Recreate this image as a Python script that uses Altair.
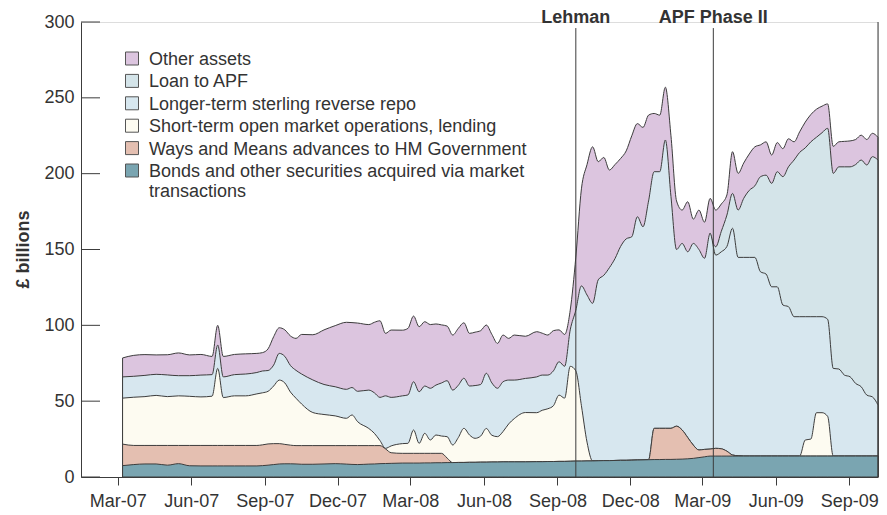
import altair as alt
import pandas as pd

FONT = "Liberation Sans"
TEXT = "#333333"
LINE = "#3c3c3c"

dates = [
    "2007-03-07", "2007-03-21", "2007-04-04", "2007-04-18", "2007-05-02", "2007-05-16", "2007-05-30",
    "2007-06-13", "2007-06-27", "2007-07-04", "2007-07-11", "2007-07-25", "2007-08-08", "2007-08-22",
    "2007-08-29", "2007-09-05", "2007-09-12", "2007-09-19", "2007-09-26", "2007-10-03", "2007-10-10",
    "2007-10-17", "2007-10-31", "2007-11-14", "2007-11-28", "2007-12-12", "2007-12-19", "2007-12-26",
    "2008-01-09", "2008-01-16", "2008-01-23", "2008-01-30", "2008-02-06", "2008-02-20", "2008-02-27",
    "2008-03-05", "2008-03-12", "2008-03-19", "2008-03-26", "2008-04-02", "2008-04-09", "2008-04-16",
    "2008-04-23", "2008-04-30", "2008-05-07", "2008-05-14", "2008-05-21", "2008-05-28", "2008-06-04",
    "2008-06-11", "2008-06-18", "2008-06-25", "2008-07-02", "2008-07-09", "2008-07-23", "2008-08-06",
    "2008-08-13", "2008-08-20", "2008-08-27", "2008-09-03", "2008-09-10", "2008-09-17",
    "2008-09-24", "2008-10-01", "2008-10-08", "2008-10-15", "2008-10-22", "2008-10-29", "2008-11-05",
    "2008-11-12", "2008-11-19", "2008-11-26", "2008-12-03", "2008-12-10", "2008-12-17", "2008-12-24",
    "2008-12-31", "2009-01-07", "2009-01-14", "2009-01-21", "2009-01-28", "2009-02-04", "2009-02-11",
    "2009-02-18", "2009-02-25", "2009-03-04", "2009-03-11", "2009-03-18", "2009-03-25", "2009-04-01",
    "2009-04-08", "2009-04-15", "2009-04-22", "2009-04-29", "2009-05-06", "2009-05-13", "2009-05-20",
    "2009-05-27", "2009-06-03", "2009-06-10", "2009-06-17", "2009-06-24", "2009-07-01", "2009-07-08",
    "2009-07-15", "2009-07-22", "2009-07-29", "2009-08-05", "2009-08-12", "2009-08-19", "2009-08-26",
    "2009-09-02", "2009-09-09", "2009-09-16", "2009-09-23", "2009-09-30", "2009-10-07",
]

# Cumulative levels (top edge of each stacked band), £ billions
level_other = [
    78.5, 80.2, 80.7, 80.5, 80.6, 81.8, 80.5, 80.8, 79.5, 100, 79.5, 80.8, 81.2, 81.5,
    82, 84.5, 92.5, 98.4, 97, 93, 91.4, 94, 93.8, 97, 99.8, 102, 101.8, 101.5,
    100.5, 102, 103, 94.7, 96.9, 96.8, 98, 106.1, 99.1, 102.4, 100.5, 100.9, 100.3, 99.5,
    93.6, 98, 101.7, 94.7, 95.5, 96.5, 100.2, 94, 88.1, 93.6, 91.4, 93.6, 92.8, 95.8,
    94.8, 93.6, 96.5, 97, 94, 110,
    145, 190, 206, 217.7, 207.9, 210.7, 202.4, 206, 210, 215, 225, 233, 230.5, 238.6,
    239.7, 238.6, 257, 225, 182, 176, 181.5, 170, 176, 168, 183.7, 176, 180, 186,
    214.5, 200.2, 207, 213, 217.7, 219, 221, 212.3, 220.5, 216.5, 223, 221, 227.6, 234,
    239, 242.5, 244.5, 246, 218, 221, 221.3, 221.6, 222.5, 225.4, 222.5, 226.6, 224,
]
level_apf = [  # from 2009-03-11, when the loan to the APF appears
    160.6, 151.8, 162, 172.7, 187, 176, 183.7, 189, 192, 198, 199, 193.6, 201.3, 198,
    204.5, 209, 214, 217, 221, 224, 227, 229.9, 200.2, 204.5, 204.5, 204.5, 206, 209,
    205.7, 211.2, 209,
]
level_ltr = [
    66, 66.4, 67, 67.7, 67.3, 66.8, 66.8, 67.2, 67.5, 87, 66, 67.5, 67.9, 68.9,
    69.9, 70.2, 73.8, 81.5, 79.5, 73.5, 70.3, 67.9, 64, 61, 59.5, 57.8, 59, 56.5,
    57.3, 55.5, 52.5, 53.5, 52.5, 53.5, 54.1, 62.8, 56.2, 60, 58.5, 60.6, 62, 63.5,
    57.3, 60.5, 65.1, 60, 60.3, 61, 68.4, 62, 58.5, 62.8, 63.9, 63.9, 65, 66,
    67.2, 67.2, 70, 76, 73, 97,
    110, 126, 120, 114.5, 130, 133, 138, 144, 152, 157, 158.4, 171.6, 165, 182,
    201.3, 201.3, 222.2, 185, 150, 154, 148.5, 154, 150, 144.2, 160.6, 146.3, 148.5, 152,
    164, 144.8, 144.8, 144.8, 144.8, 135.3, 133.8, 125.4, 125.4, 113.4, 112.3, 105.7, 105.7, 105.7,
    105.7, 105.7, 105.7, 104, 71.6, 71.2, 67.2, 66.1, 61.7, 59.5, 54, 52.8, 47.5,
]
level_omo = [
    52, 52.6, 53, 53.8, 53, 53.5, 53.2, 52.8, 53.3, 71.6, 52.4, 53.5, 53.5, 54.8,
    55.5, 56.5, 60, 63.9, 62, 56, 51.9, 48.1, 42.5, 41.2, 40.3, 38.7, 40.9, 36.5,
    32, 28.8, 24, 18.9, 20.5, 22, 22.2, 31, 22.2, 28.8, 24.4, 27.7, 27, 26.6,
    21.1, 26, 32.1, 27.7, 25.5, 27, 32, 27.5, 26.6, 30, 35, 38.5, 42.5, 42.4,
    44, 45, 47, 54, 52, 73,
    70, 47, 23, 10.6, 10.7, 10.8, 10.8, 10.9, 11, 11, 11.1, 11.2, 11.3, 11.4,
    32.1, 32.1, 32.1, 32.1, 33.5, 31, 26, 21, 17.8, 18.2, 18.4, 18.9, 18.6, 17,
    14.5, 14, 13.8, 13.8, 13.8, 13.8, 13.8, 13.8, 13.8, 13.8, 13.8, 13.8, 13.8, 24.4,
    25, 42.4, 42.4, 40, 13.8, 13.8, 13.8, 13.8, 13.8, 13.8, 13.8, 13.8, 13.8,
]
level_wm = [
    21.7, 20.8, 20.8, 20.8, 20.8, 20.8, 20.8, 20.8, 20.8, 20.8, 20.8, 20.8, 20.8, 20.8,
    21.2, 21.8, 22, 22, 21.5, 21, 20.7, 20.7, 20.7, 20.7, 20.7, 20.7, 20.7, 20.7,
    20.7, 20.7, 20.7, 18.5, 16, 15.6, 15.6, 15.6, 15.6, 15.6, 15.6, 15.6, 15.6, 12.5,
    9.5, 9.6, 9.6, 9.7, 9.7, 9.8, 9.8, 9.9, 9.9, 10, 10, 10, 10, 10.1,
    10.1, 10.2, 10.2, 10.3, 10.3, 10.4,
    10.5, 10.5, 10.6, 10.6, 10.7, 10.8, 10.8, 10.9, 11, 11, 11.1, 11.2, 11.3, 11.4,
    32.1, 32.1, 32.1, 32.1, 33.5, 31, 26, 21, 17.8, 18.2, 18.4, 18.9, 18.6, 17,
    14.5, 14, 13.8, 13.8, 13.8, 13.8, 13.8, 13.8, 13.8, 13.8, 13.8, 13.8, 13.8, 13.8,
    13.8, 13.8, 13.8, 13.8, 13.8, 13.8, 13.8, 13.8, 13.8, 13.8, 13.8, 13.8, 13.8,
]
level_bonds = [
    7.5, 8.2, 8.6, 8.6, 7.8, 8.8, 7.4, 7.3, 7.3, 7.3, 7.3, 7.3, 7.3, 7.3,
    7.5, 7.8, 8.2, 8.6, 8.7, 8.7, 8.6, 8.4, 8.4, 8.6, 8.8, 8.5, 8.3, 8.2,
    8.5, 8.6, 8.8, 8.9, 9, 9.2, 9.2, 9.2, 9.2, 9.3, 9.3, 9.4, 9.4, 9.5,
    9.5, 9.6, 9.6, 9.7, 9.7, 9.8, 9.8, 9.9, 9.9, 10, 10, 10, 10, 10.1,
    10.1, 10.2, 10.2, 10.3, 10.3, 10.4,
    10.5, 10.5, 10.6, 10.6, 10.7, 10.8, 10.8, 10.9, 11, 11, 11.1, 11.2, 11.3, 11.4,
    11.5, 11.5, 11.6, 11.6, 11.7, 11.8, 12, 12.3, 12.8, 13.3, 13.8, 13.8, 13.8, 13.8,
    13.8, 13.8, 13.8, 13.8, 13.8, 13.8, 13.8, 13.8, 13.8, 13.8, 13.8, 13.8, 13.8, 13.8,
    13.8, 13.8, 13.8, 13.8, 13.8, 13.8, 13.8, 13.8, 13.8, 13.8, 13.8, 13.8, 13.8,
]

series = [
    "Other assets",
    "Loan to APF",
    "Longer-term sterling reverse repo",
    "Short-term open market operations, lending",
    "Ways and Means advances to HM Government",
    "Bonds and other securities acquired via market transactions",
]
colors = ["#dcc5df", "#d4e4e9", "#d7e7ef", "#fdfbf1", "#e4bfb1", "#7aa5b1"]

y_ticks = [0, 50, 100, 150, 200, 250, 300]
x_ticks = ["2007-03-01", "2007-06-01", "2007-09-01", "2007-12-01", "2008-03-01", "2008-06-01",
           "2008-09-01", "2008-12-01", "2009-03-01", "2009-06-01", "2009-09-01"]
x_range = ["2007-01-14", "2009-10-07"]

events = ["Lehman", "APF Phase II"]
event_dates = ["2008-09-24", "2009-03-15"]
event_tops = [296, 296]


def dt(s):
    y, m, d = (int(p) for p in s.split("-"))
    return alt.DateTime(year=y, month=m, date=d, utc=True)


apf_dates = dates[dates.index("2009-03-11"):]
frames = []
for name, ds, vs in zip(series,
                        [dates, apf_dates, dates, dates, dates, dates],
                        [level_other, level_apf, level_ltr, level_omo, level_wm, level_bonds]):
    frames.append(pd.DataFrame({"series": name, "date": ds, "level": vs}))
df = pd.concat(frames, ignore_index=True)

x_enc = alt.X(
    "date:T",
    scale=alt.Scale(type="utc", domain=[dt(x_range[0]), dt(x_range[1])]),
    axis=alt.Axis(values=[dt(s) for s in x_ticks], labelExpr="utcFormat(datum.value, '%b-%y')",
                  title=None, grid=False, tickSize=8, tickColor=LINE, domainColor=LINE,
                  labelFontSize=18, labelFont=FONT, labelColor=TEXT, labelPadding=7,
                  labelOverlap=False, labelFlush=False),
)
y_enc = alt.Y(
    "level:Q",
    stack=None,
    scale=alt.Scale(domain=[0, 300], nice=False, zero=True),
    axis=alt.Axis(values=y_ticks, title="£ billions", grid=False, ticks=False,
                  domainColor=LINE, labelFontSize=18, labelFont=FONT, labelColor=TEXT,
                  labelPadding=7, titleFont=FONT, titleFontSize=18, titleFontWeight="bold",
                  titleColor=TEXT, titleX=-58, titleY=227, titleAngle=-90,
                  titleAlign="center", titleBaseline="middle"),
)
color_enc = alt.Color(
    "series:N",
    scale=alt.Scale(domain=series, range=colors),
    legend=alt.Legend(
        title=None, orient="none", legendX=42, legendY=34, direction="vertical",
        symbolType="M-1,-2H1V0H-1Z", symbolSize=169, symbolStrokeColor="#555555",
        symbolStrokeWidth=1, symbolOpacity=1, labelFont=FONT, labelFontSize=18,
        labelColor=TEXT, labelLimit=700, labelOffset=8, rowPadding=3.4, padding=0,
        labelBaseline="alphabetic",
        labelExpr="datum.label == 'Bonds and other securities acquired via market transactions' ? "
                  "['Bonds and other securities acquired via market', 'transactions'] : datum.label",
    ),
)

layers = []
for name in series:
    layers.append(
        alt.Chart(df)
        .transform_filter(alt.datum.series == name)
        .mark_area(interpolate="monotone", stroke=LINE, strokeWidth=1, opacity=1)
        .encode(x=x_enc, y=y_enc, color=color_enc)
    )

ev = pd.DataFrame({"label": events, "date": event_dates, "level": event_tops})
edge = pd.DataFrame({"date": [dates[-1]], "level": [y_ticks[-1]]})
ticks_df = pd.DataFrame({"level": y_ticks})

rules = alt.Chart(ev).mark_rule(color=LINE, strokeWidth=1).encode(x=x_enc, y=y_enc, y2=alt.datum(0))
edge_rule = alt.Chart(edge).mark_rule(color=LINE, strokeWidth=1).encode(x=x_enc, y=y_enc, y2=alt.datum(0))
labels = alt.Chart(ev).mark_text(font=FONT, fontSize=18, fontWeight="bold", color=TEXT,
                                 baseline="alphabetic", align="center").encode(
    x=x_enc, y=alt.value(1), text="label:N")
inner_ticks = alt.Chart(ticks_df).mark_rule(color=LINE, strokeWidth=1).encode(
    y=y_enc, x=alt.value(0), x2=alt.value(19))

chart = (
    alt.layer(*layers, rules, edge_rule, inner_ticks, labels)
    .properties(width=797, height=455, autosize=alt.AutoSizeParams(type="none"),
                padding={"left": 73, "top": 14, "right": 1, "bottom": 38})
    .configure_view(stroke=None)
    .configure(background="white")
)

chart.save("out.html", embed_options={"renderer": "svg", "actions": False})
